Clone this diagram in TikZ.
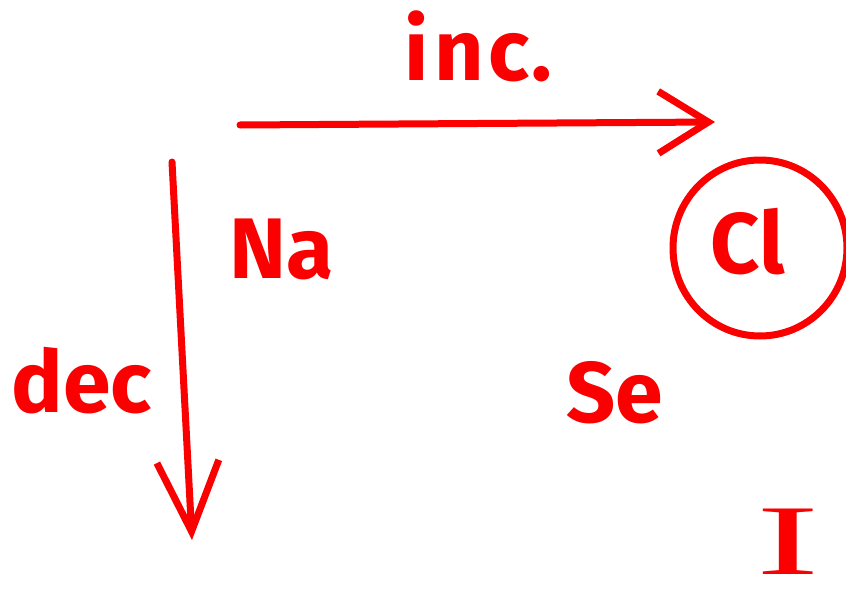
\documentclass[tikz,border=0pt]{standalone}
\usepackage{fontspec}
\setmainfont{Fira Sans}
\newfontfamily\serifI{Liberation Serif}
\usetikzlibrary{arrows.meta,shapes.geometric}
\definecolor{ink}{RGB}{250,0,0}
\tikzset{
  lbl/.style={text=ink, font=\fontsize{86}{86}\selectfont\bfseries, inner sep=0pt},
  pen/.style={draw=ink, line width=7pt, line cap=round, line join=round},
  barb/.style={-{Straight Barb[length=#1, width=62pt, line width=7pt]}},
}
\begin{document}
\begin{tikzpicture}[x=1pt,y=1pt]
\useasboundingbox (0,0) rectangle (846,-605);
\clip (0,0) rectangle (846,-605);
\fill[white] (0,0) rectangle (846,-605);
% text nodes
\node[lbl, anchor=base] (inc) at (478,-80) {i\kern6pt n\kern4pt c\kern2pt.};
\node[lbl, anchor=base] (na) at (282,-278) {Na};
\node[lbl, anchor=base] (dec) at (82,-412) {dec};
\node[lbl, anchor=base] (se) at (615,-422) {Se};
\node[lbl, anchor=base] (cl) at (748,-273) {Cl};
\node[lbl, anchor=base, font=\fontsize{100}{100}\selectfont\serifI] (iod) at (788,-574) {\scalebox{1.9}[1]{I}};
% circle around Cl
\node[pen, ellipse, minimum width=174pt, minimum height=176pt, inner sep=0pt] (clc) at (760,-248) {};
% arrows
\coordinate (hs) at (240,-125);
\coordinate (he) at (715,-122);
\coordinate (vs) at (172,-162);
\coordinate (ve) at (192,-540);
\draw[pen, barb=50pt] (hs) -- (he);
\draw[pen, barb=70pt] (vs) -- (ve);
\end{tikzpicture}
\end{document}
